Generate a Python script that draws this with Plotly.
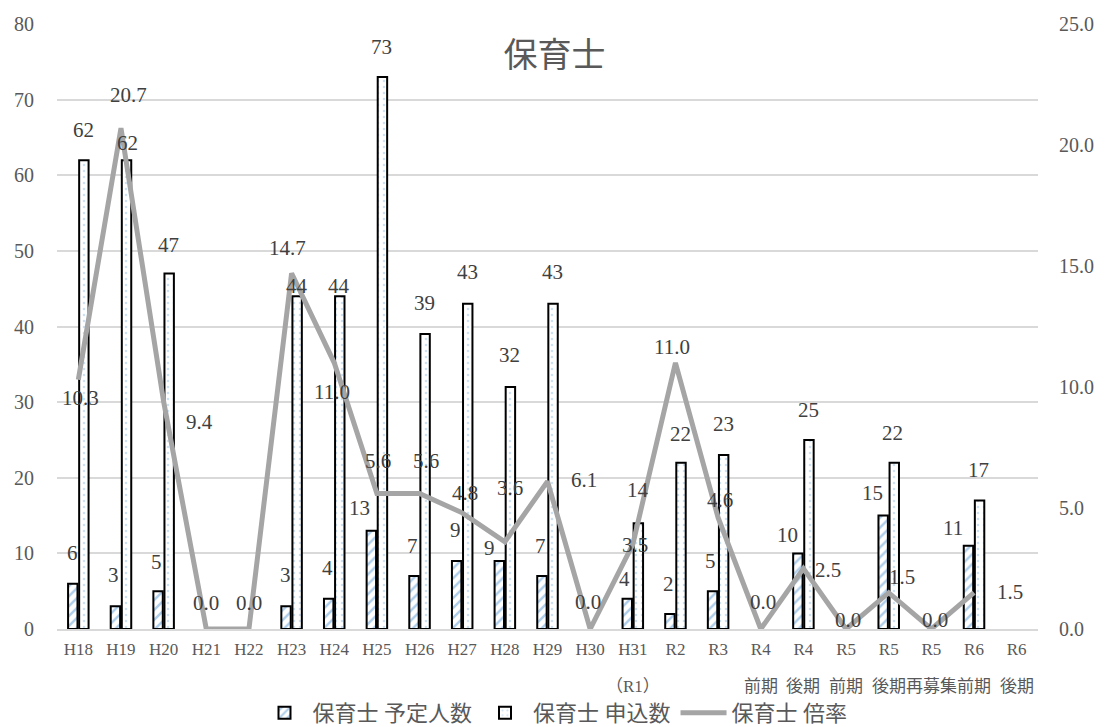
import plotly.graph_objects as go

# category tick labels: first line and second line
tick_line1 = ["H18", "H19", "H20", "H21", "H22", "H23", "H24", "H25", "H26", "H27",
              "H28", "H29", "H30", "H31", "R2", "R3",
              "R4", "R4", "R5", "R5", "R5", "R6", "R6"]
tick_line2 = ["", "", "", "", "", "", "", "", "", "", "", "", "", "（R1）", "", "",
              "前期", "後期", "前期", "後期", "再募集", "前期", "後期"]
categories = [a + b for a, b in zip(tick_line1, tick_line2)]

planned = [6, 3, 5, None, None, 3, 4, 13, 7, 9, 9, 7, None, 4, 2, 5,
           None, 10, None, 15, None, 11, None]
applied = [62, 62, 47, None, None, 44, 44, 73, 39, 43, 32, 43, None, 14, 22, 23,
           None, 25, None, 22, None, 17, None]
ratio = [10.3, 20.7, 9.4, 0.0, 0.0, 14.7, 11.0, 5.6, 5.6, 4.8, 3.6, 6.1, 0.0, 3.5,
         11.0, 4.6, 0.0, 2.5, 0.0, 1.5, 0.0, 1.5, None]

# label placement offsets in px (dx, dy up) -- styling only
planned_label_offsets = [(-6, 31), (-7, 31), (-7, 29), (0, 0), (0, 0), (-6, 31), (-7, 31),
                         (-17, 23), (-7, 30), (-7, 31), (-15, 13), (-7, 30), (0, 0),
                         (-8, 20), (-7, 30), (-8, 30), (0, 0), (-16, 18), (0, 0),
                         (-16, 23), (0, 0), (-21, 18), (0, 0)]
applied_label_offsets = [(5, 30), (7, 17), (5, 29), (0, 0), (0, 0), (5, 10), (5, 10),
                         (5, 30), (5, 31), (5, 32), (5, 32), (5, 32), (0, 0),
                         (5, 33), (5, 29), (5, 31), (0, 0), (5, 30), (0, 0),
                         (4, 30), (0, 0), (4, 30), (0, 0)]
ratio_label_offsets = [(2, -18), (8, 33), (36, -20), (0, 26), (0, 26), (-4, 25), (-2, -29),
                       (1, 32), (6, 32), (3, 20), (5, 54), (36, 1), (-2, 27), (2, -1),
                       (-3, 16), (2, 18), (2, 27), (25, -1), (2, 9), (13, 16), (4, 9),
                       (36, 1), (0, 0)]

FONT = "Liberation Serif, Noto Sans CJK JP, serif"
TXT = "#404040"
AX = "#595959"
LABEL_SIZE = 21

fig = go.Figure()
fig.add_trace(go.Bar(
    x=categories, y=planned, name="保育士 予定人数",
    marker=dict(color="white", line=dict(color="black", width=2),
                pattern=dict(shape="/", fgcolor="#5b9bd5", bgcolor="white",
                             size=7, solidity=0.35)),
))
fig.add_trace(go.Bar(
    x=categories, y=applied, name="保育士 申込数",
    marker=dict(color="white", line=dict(color="black", width=2),
                pattern=dict(shape=".", fgcolor="#9dc3e6", bgcolor="white",
                             size=6, solidity=0.15)),
))
fig.add_trace(go.Scatter(
    x=categories, y=ratio, name="保育士 倍率", yaxis="y2", mode="lines",
    line=dict(color="#a5a5a5", width=5), cliponaxis=False,
))

# bar value labels
for c, v, (dx, dy) in zip(categories, planned, planned_label_offsets):
    if v is not None:
        fig.add_annotation(x=c, y=v, xref="x", yref="y", text=str(v), showarrow=False,
                           xshift=dx, yshift=dy,
                           font=dict(family=FONT, size=LABEL_SIZE, color=TXT))
for c, v, (dx, dy) in zip(categories, applied, applied_label_offsets):
    if v is not None:
        fig.add_annotation(x=c, y=v, xref="x", yref="y", text=str(v), showarrow=False,
                           xshift=dx, yshift=dy,
                           font=dict(family=FONT, size=LABEL_SIZE, color=TXT))
# ratio labels
for c, v, (dx, dy) in zip(categories, ratio, ratio_label_offsets):
    if v is not None:
        fig.add_annotation(x=c, y=v, yref="y2", xref="x", text=f"{v:.1f}",
                           showarrow=False, xshift=dx, yshift=dy,
                           font=dict(family=FONT, size=LABEL_SIZE, color=TXT))
# second line of the category labels
for c, t in zip(categories, tick_line2):
    if t:
        fig.add_annotation(x=c, y=0, xref="x", yref="paper", text=t, showarrow=False,
                           yshift=-57, yanchor="middle",
                           font=dict(family=FONT, size=17, color=AX))

fig.update_layout(
    width=1109, height=727,
    margin=dict(l=57, r=71, t=24, b=98),
    paper_bgcolor="white", plot_bgcolor="white",
    barmode="group", bargap=0.48, bargroupgap=0.15,
    title=dict(text="保育士", x=0.5, xref="container", xanchor="center",
               y=1 - 55 / 727, yanchor="middle", yref="container",
               font=dict(family=FONT, size=34, color=AX)),
    xaxis=dict(type="category", tickmode="array", tickvals=categories, ticktext=tick_line1,
               tickfont=dict(family=FONT, size=17, color=AX),
               showline=True, linecolor="#d9d9d9", linewidth=1.5, ticks="",
               showgrid=False, ticklabelstandoff=4, tickangle=0, automargin=False),
    yaxis=dict(range=[0, 80], dtick=10, tickfont=dict(family=FONT, size=20, color=AX),
               showgrid=True, gridcolor="#d9d9d9", gridwidth=1.5, zeroline=False,
               ticks="", ticklabelstandoff=22, automargin=False),
    yaxis2=dict(range=[0, 25], dtick=5, tickformat=".1f", overlaying="y", side="right",
                tickfont=dict(family=FONT, size=20, color=AX), showgrid=False,
                zeroline=False, ticks="", ticklabelstandoff=20, automargin=False),
    legend=dict(orientation="h", x=0.5, xref="container", xanchor="center",
                y=1 - 713 / 727, yref="container", yanchor="middle",
                font=dict(family=FONT, size=22, color=AX), itemwidth=46,
                traceorder="normal"),
    showlegend=True,
)

fig.write_html("out.html")
